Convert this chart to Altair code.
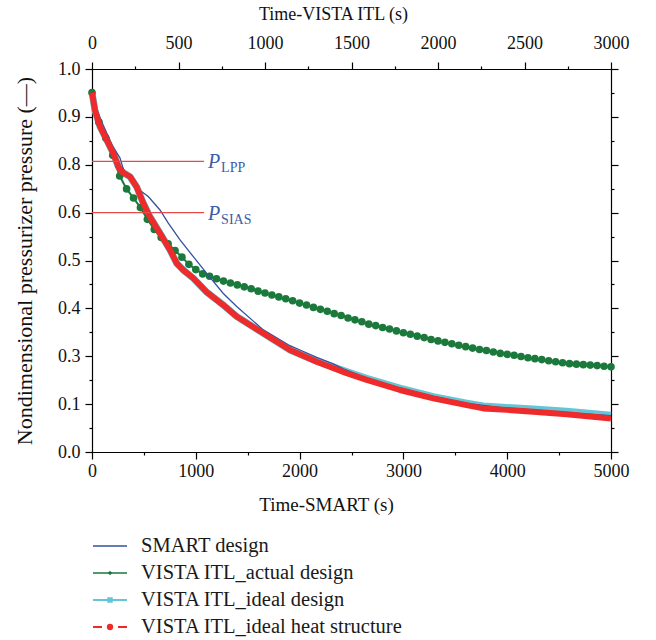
import altair as alt
import pandas as pd

# ---------------- data ----------------
# SMART design, plotted against Time-SMART (s)
smart_t = [0, 45, 116, 193, 270, 299, 347, 414, 542, 655, 735, 848, 976, 1105, 1265,
           1394, 1650, 1907, 2004, 2165, 2325, 2421, 2646, 2967, 3288, 3610, 3931,
           4252, 4573, 5000]
smart_p = [0.951, 0.914, 0.879, 0.841, 0.814, 0.786, 0.749, 0.708, 0.667, 0.611, 0.578,
           0.543, 0.508, 0.473, 0.431, 0.404, 0.355, 0.322, 0.313, 0.295, 0.268, 0.247,
           0.209, 0.167, 0.132, 0.103, 0.093, 0.088, 0.082, 0.076]

# VISTA ITL_actual design, plotted against Time-VISTA ITL (s), one marker every 40 s
actual_t = [40 * k for k in range(76)]
actual_p = [0.951, 0.889, 0.856, 0.820, 0.753, 0.699, 0.661, 0.621, 0.586, 0.565,
            0.548, 0.535, 0.521, 0.507, 0.492, 0.481, 0.472, 0.467, 0.462, 0.457,
            0.453, 0.449, 0.445, 0.441, 0.436, 0.432, 0.428, 0.424, 0.420, 0.416,
            0.411, 0.407, 0.402, 0.398, 0.394, 0.389, 0.385, 0.380, 0.376, 0.372,
            0.367, 0.364, 0.360, 0.357, 0.353, 0.349, 0.346, 0.342, 0.339, 0.335,
            0.332, 0.329, 0.326, 0.323, 0.320, 0.317, 0.314, 0.312, 0.309, 0.306,
            0.304, 0.302, 0.299, 0.294, 0.290, 0.286, 0.281, 0.277, 0.273, 0.269,
            0.267, 0.265, 0.263, 0.261, 0.258, 0.256]

# VISTA ITL_ideal design / ideal heat structure, against Time-VISTA ITL (s)
ideal_t = [0, 17, 46, 85, 123, 152, 172, 220, 258, 297, 335, 393, 451, 490, 528, 586,
           663, 759, 836, 990, 1145, 1299, 1472, 1588, 1780, 1973, 2166, 2262, 2397,
           2551, 2744, 3000]
ideal_design_p = [0.951, 0.914, 0.880, 0.852, 0.824, 0.792, 0.771, 0.750, 0.708, 0.639,
                  0.591, 0.557, 0.522, 0.494, 0.480, 0.463, 0.434, 0.407, 0.383, 0.348,
                  0.313, 0.279, 0.236, 0.208, 0.167, 0.131, 0.104, 0.096, 0.093, 0.090,
                  0.085, 0.077]
ideal_heat_p = [0.951, 0.914, 0.880, 0.852, 0.824, 0.792, 0.771, 0.750, 0.708, 0.639,
                0.591, 0.557, 0.522, 0.494, 0.480, 0.463, 0.434, 0.407, 0.383, 0.348,
                0.313, 0.277, 0.229, 0.201, 0.159, 0.124, 0.098, 0.091, 0.088, 0.084,
                0.079, 0.070]

# set-point annotations (Time-SMART end of the marker line, level)
ann_levels = [0.807, 0.6]
ann_subs = ["LPP", "SIAS"]
ann_end_t = 1080

series_names = ["SMART design", "VISTA ITL_actual design",
                "VISTA ITL_ideal design", "VISTA ITL_ideal heat structure"]

# axis labels (the reference's left axis carries these labels, evenly spaced)
y_major = [0, 0.1, 0.3, 0.4, 0.5, 0.6, 0.8, 0.9, 1.0]
y_minor = [0.05, 0.2, 0.35, 0.45, 0.55, 0.7, 0.85, 0.95]
x_bottom_ticks = list(range(0, 5001, 500))
x_top_ticks = list(range(0, 3001, 250))

# ---------------- styling ----------------
W, H = 519, 383
FONT = "Liberation Serif"
C_BLUE = "#34519f"
C_GREEN = "#1b7a3b"
C_CYAN = "#63c6d6"
C_RED = "#ee2a2a"
C_ANN = "#3d5ca9"
colors = [C_BLUE, C_GREEN, C_CYAN, C_RED]

y_scale = alt.Scale(domain=y_major, range=[H * (1 - i / 8) for i in range(9)],
                    nice=False, zero=False)
xs_scale = alt.Scale(domain=[0, 5000], nice=False, zero=False)
xv_scale = alt.Scale(domain=[0, 3000], nice=False, zero=False)

minor_y_list = "[" + ",".join(str(v) for v in y_minor) + "]"
minor_y_test = f"indexof({minor_y_list}, datum.value) >= 0"


def dash(test):
    return {"condition": {"test": test, "value": [3, 40]}, "value": [10, 0]}


common = dict(grid=False, tickSize=7, tickColor="black", tickWidth=1.2,
              domainColor="black", domainWidth=1.2, labelFont=FONT,
              labelFontSize=18, labelColor="#111", titleFont=FONT,
              titleFontWeight="normal", titleColor="#111",
              labelOverlap=False, labelFlush=False)

left_axis = alt.Axis(orient="left", values=sorted(y_major + y_minor),
                     labelExpr=f"{minor_y_test} ? '' : format(datum.value, '.1f')",
                     tickDash=dash(minor_y_test), labelPadding=5, titlePadding=21,
                     titleFontSize=22,
                     title="Nondimensional pressurizer pressure (—)", **common)
right_axis = alt.Axis(orient="right", values=sorted(y_major + y_minor), labels=False,
                      tickDash=dash(minor_y_test), title=None, **common)
bottom_axis = alt.Axis(orient="bottom", values=x_bottom_ticks,
                       labelExpr="datum.value % 1000 == 0 ? format(datum.value, 'd') : ''",
                       tickDash=dash("datum.value % 1000 != 0"), labelPadding=3,
                       titlePadding=15, titleFontSize=19, titleX=234,
                       title="Time-SMART (s)", **common)
top_axis = alt.Axis(orient="top", values=x_top_ticks,
                    labelExpr="datum.value % 500 == 0 ? format(datum.value, 'd') : ''",
                    tickDash=dash("datum.value % 500 != 0"), labelPadding=10,
                    titlePadding=11, titleFontSize=18, titleX=241,
                    title="Time-VISTA ITL (s)", **common)

# ---------------- frames ----------------
smart_df = pd.DataFrame({"t": smart_t, "p": smart_p})
actual_df = pd.DataFrame({"tv": actual_t, "p": actual_p})
ideal_df = pd.DataFrame({"tv": ideal_t, "pd": ideal_design_p, "ph": ideal_heat_p})
ann_df = pd.DataFrame({"lvl": ann_levels, "sub": ann_subs,
                       "t0": [0] * len(ann_levels), "t1": [ann_end_t] * len(ann_levels)})
leg_df = pd.DataFrame({"name": series_names, "row": list(range(len(series_names)))})

# ---------------- layers ----------------
cyan_line = alt.Chart(ideal_df).mark_line(color=C_CYAN, strokeWidth=7).encode(
    x=alt.X("tv:Q", scale=xv_scale, axis=None),
    y=alt.Y("pd:Q", scale=y_scale, axis=None))

green_line = alt.Chart(actual_df).mark_line(color=C_GREEN, strokeWidth=2).encode(
    x=alt.X("tv:Q", scale=xv_scale, axis=top_axis),
    y=alt.Y("p:Q", scale=y_scale, axis=right_axis))

green_pts = alt.Chart(actual_df).mark_point(
    color=C_GREEN, filled=True, opacity=1, shape="circle", size=58).encode(
    x=alt.X("tv:Q", scale=xv_scale, axis=None),
    y=alt.Y("p:Q", scale=y_scale, axis=None))

blue_line = alt.Chart(smart_df).mark_line(color=C_BLUE, strokeWidth=1.3).encode(
    x=alt.X("t:Q", scale=xs_scale, axis=bottom_axis),
    y=alt.Y("p:Q", scale=y_scale, axis=left_axis))

red_line = alt.Chart(ideal_df).mark_line(color=C_RED, strokeWidth=6,
                                         strokeJoin="round").encode(
    x=alt.X("tv:Q", scale=xv_scale, axis=None),
    y=alt.Y("ph:Q", scale=y_scale, axis=None))

ann_rules = alt.Chart(ann_df).mark_rule(color="#e84a4a", strokeWidth=1.2).encode(
    x=alt.X("t0:Q", scale=xs_scale, axis=None), x2="t1:Q",
    y=alt.Y("lvl:Q", scale=y_scale, axis=None))

ann_p = alt.Chart(ann_df).mark_text(
    text="P", font=FONT, fontStyle="italic", fontSize=20, color=C_ANN,
    align="left", baseline="middle", dx=4, dy=1).encode(
    x=alt.X("t1:Q", scale=xs_scale, axis=None),
    y=alt.Y("lvl:Q", scale=y_scale, axis=None))

ann_sub = alt.Chart(ann_df).mark_text(
    font=FONT, fontSize=14, color=C_ANN, align="left", baseline="middle",
    dx=17, dy=7).encode(
    x=alt.X("t1:Q", scale=xs_scale, axis=None),
    y=alt.Y("lvl:Q", scale=y_scale, axis=None),
    text="sub:N")

# legend below the plot
LEG_Y0, LEG_STEP = 477, 27
leg_base = alt.Chart(leg_df).transform_calculate(ly=f"{LEG_Y0} + datum.row * {LEG_STEP}")
leg_y = alt.Y("ly:Q", scale=None, axis=None)
leg_color = alt.Color("name:N", scale=alt.Scale(domain=series_names, range=colors), legend=None)

leg_rules = leg_base.mark_rule().encode(
    x=alt.value(1), x2=alt.value(35), y=leg_y, color=leg_color,
    strokeDash=alt.StrokeDash("name:N", scale=alt.Scale(
        domain=series_names, range=[[10, 0], [10, 0], [10, 0], [9, 16]]), legend=None),
    strokeWidth=alt.StrokeWidth("name:N", scale=alt.Scale(
        domain=series_names, range=[1.3, 2, 2, 2]), legend=None))

leg_pts = leg_base.transform_filter("datum.row >= 1").mark_point(
    filled=True, opacity=1).encode(
    x=alt.value(18), y=leg_y, color=leg_color,
    shape=alt.Shape("name:N", scale=alt.Scale(
        domain=series_names, range=["circle", "diamond", "square", "circle"]), legend=None),
    size=alt.Size("name:N", scale=alt.Scale(
        domain=series_names, range=[10, 40, 30, 14]), legend=None))

leg_text = leg_base.mark_text(
    font=FONT, fontSize=20.5, color="#1a1a1a", align="left", baseline="middle").encode(
    x=alt.value(49), y=leg_y, text="name:N")

chart = alt.layer(
    cyan_line, green_line, green_pts, blue_line, red_line,
    ann_rules, ann_p, ann_sub, leg_rules, leg_pts, leg_text
).resolve_scale(
    x="independent", y="independent", color="shared"
).properties(
    width=W, height=H,
    autosize=alt.AutoSizeParams(type="none"),
    padding={"left": 92, "top": 69, "right": 45, "bottom": 188},
    background="white",
).configure_view(stroke=None)

chart.save("out.html", embed_options={"renderer": "svg", "actions": False})
